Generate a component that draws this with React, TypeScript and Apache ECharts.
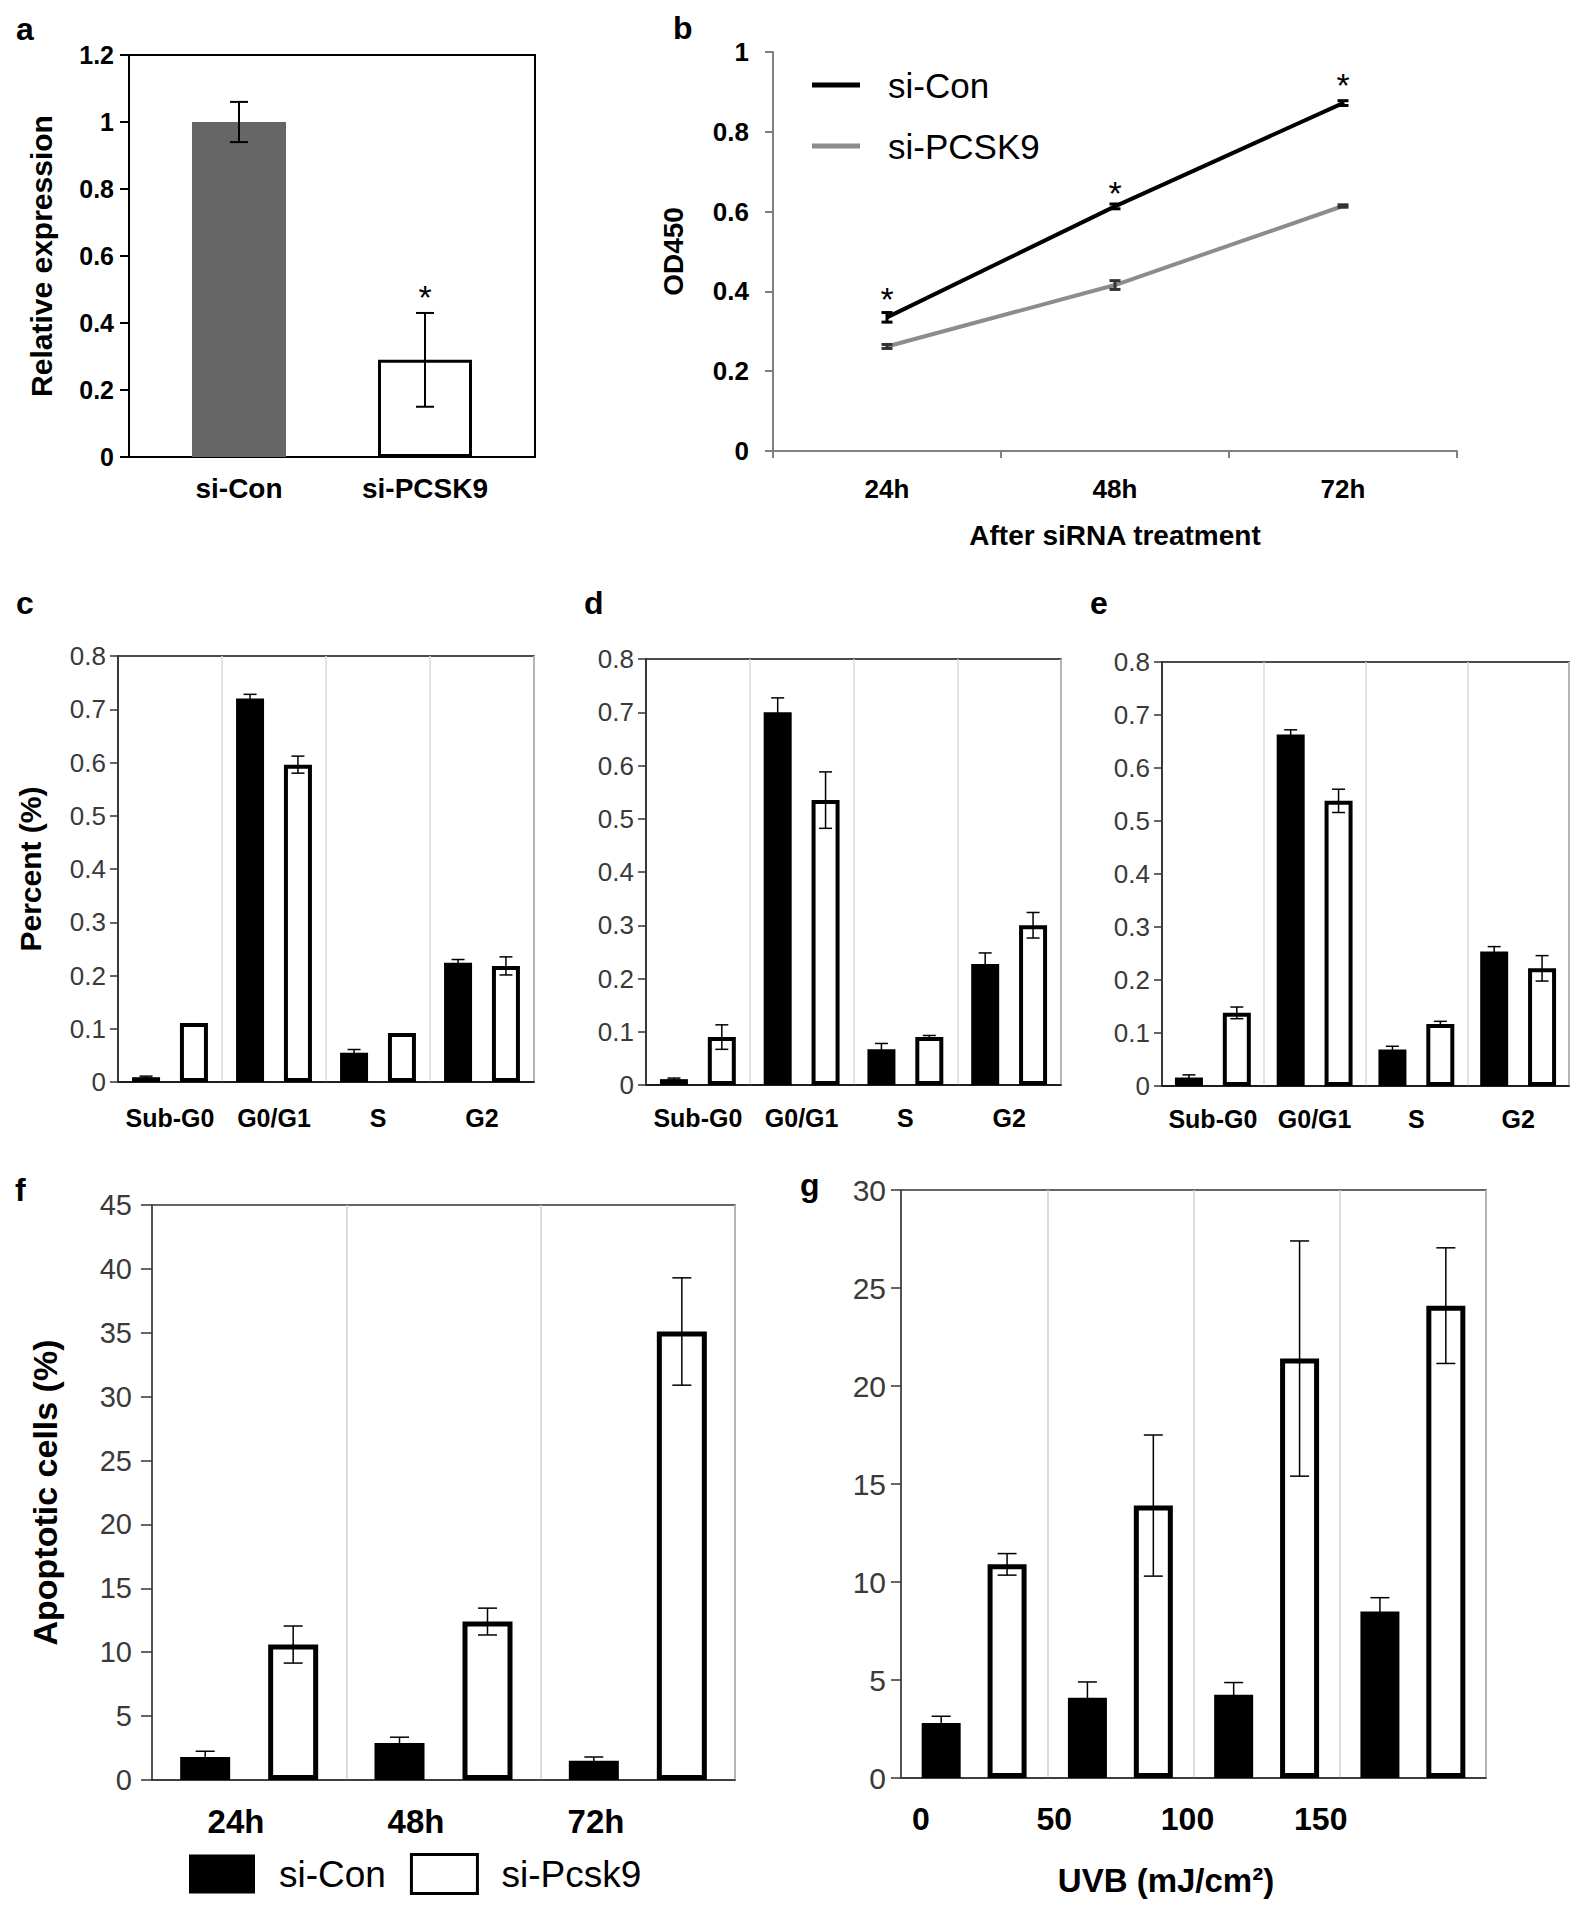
import React, { useEffect, useRef } from 'react';
import * as echarts from 'echarts';

// ---------------- data ----------------
const aCategories = ['si-Con', 'si-PCSK9'];
const aValues = [1.0, 0.29];
const aErrors = [0.06, 0.14];
const aStars = [null, 0.5];

const bCategories = ['24h', '48h', '72h'];
const bCon = [0.335, 0.613, 0.872];
const bConErr = [0.012, 0.006, 0.006];
const bPcsk9 = [0.262, 0.416, 0.614];
const bPcsk9Err = [0.005, 0.011, 0.003];
const bStars = [0.4, 0.665, 0.935];

const phases = ['Sub-G0', 'G0/G1', 'S', 'G2'];
const cCon = [0.009, 0.72, 0.055, 0.224];
const cConErr = [0.002, 0.008, 0.006, 0.006];
const cPcsk9 = [0.111, 0.596, 0.092, 0.218];
const cPcsk9Err = [0, 0.016, 0, 0.017];

const dCon = [0.011, 0.7, 0.067, 0.227];
const dConErr = [0.002, 0.027, 0.011, 0.021];
const dPcsk9 = [0.09, 0.535, 0.09, 0.3];
const dPcsk9Err = [0.023, 0.053, 0.003, 0.024];

const eCon = [0.016, 0.663, 0.069, 0.254];
const eConErr = [0.005, 0.009, 0.006, 0.009];
const ePcsk9 = [0.138, 0.538, 0.117, 0.222];
const ePcsk9Err = [0.011, 0.022, 0.005, 0.024];

const fTimes = ['24h', '48h', '72h'];
const fCon = [1.8, 2.9, 1.5];
const fConErr = [0.45, 0.45, 0.3];
const fPcsk9 = [10.6, 12.4, 35.1];
const fPcsk9Err = [1.45, 1.05, 4.2];

const gGroups = ['0', '50', '100', '150'];
const gTickLabels = ['0', '50', '100', '150', ''];
const gCon = [2.8, 4.1, 4.25, 8.5];
const gConErr = [0.35, 0.8, 0.62, 0.7];
const gPcsk9 = [10.9, 13.9, 21.4, 24.1];
const gPcsk9Err = [0.55, 3.6, 6.0, 2.95];

const panelLetters = ['a', 'b', 'c', 'd', 'e', 'f', 'g'];

// ---------------- helpers ----------------
const FONT = "'Liberation Sans', Arial, Helvetica, sans-serif";

function errData(values: number[], errs: number[]) {
  const out: number[][] = [];
  values.forEach((v, i) => {
    if (errs[i] > 0) out.push([i, v - errs[i], v + errs[i]]);
  });
  return out;
}

function errSeries(axis: number, values: number[], errs: number[], offset: number, capW: number, lw: number, color: string) {
  return {
    type: 'custom',
    xAxisIndex: axis,
    yAxisIndex: axis,
    z: 5,
    silent: true,
    data: errData(values, errs),
    encode: { x: 0, y: [1, 2] },
    renderItem: (_p: any, api: any) => {
      const lo = api.coord([api.value(0), api.value(1)]);
      const hi = api.coord([api.value(0), api.value(2)]);
      const x = lo[0] + offset;
      const h = capW / 2;
      const st = { stroke: color, lineWidth: lw };
      return {
        type: 'group',
        children: [
          { type: 'line', shape: { x1: x, y1: lo[1], x2: x, y2: hi[1] }, style: st },
          { type: 'line', shape: { x1: x - h, y1: lo[1], x2: x + h, y2: lo[1] }, style: st },
          { type: 'line', shape: { x1: x - h, y1: hi[1], x2: x + h, y2: hi[1] }, style: st },
        ],
      };
    },
  };
}

function starSeries(axis: number, levels: (number | null)[], size: number) {
  const data: number[][] = [];
  levels.forEach((v, i) => {
    if (v != null) data.push([i, v]);
  });
  return {
    type: 'custom',
    xAxisIndex: axis,
    yAxisIndex: axis,
    z: 6,
    silent: true,
    data,
    encode: { x: 0, y: 1 },
    renderItem: (_p: any, api: any) => {
      const pt = api.coord([api.value(0), api.value(1)]);
      return {
        type: 'text',
        x: pt[0],
        y: pt[1] + size * 0.22,
        style: { text: '*', fontSize: size, fontFamily: FONT, fill: '#000', align: 'center', verticalAlign: 'middle' },
      };
    },
  };
}

function barPair(axis: number, con: number[], pc: number[], conErr: number[], pcErr: number[], bw: number, gap: number, border: number, capW: number, lw: number) {
  const off = (bw + gap * bw) / 2;
  return [
    { type: 'bar', name: 'si-Con', xAxisIndex: axis, yAxisIndex: axis, data: con, barWidth: bw, barGap: `${Math.round(gap * 100)}%`, itemStyle: { color: '#000' }, z: 2 },
    { type: 'bar', name: 'si-Pcsk9', xAxisIndex: axis, yAxisIndex: axis, data: pc, barWidth: bw, barGap: `${Math.round(gap * 100)}%`, itemStyle: { color: '#fff', borderColor: '#000', borderWidth: border }, z: 2 },
    errSeries(axis, con, conErr, -off, capW, lw, '#000'),
    errSeries(axis, pc, pcErr, off, capW, lw, '#000'),
  ];
}

function cellX(gridIndex: number, margin: number) {
  return {
    type: 'category', gridIndex, data: phases,
    axisLine: { lineStyle: { color: '#111', width: 1.5 } },
    axisTick: { show: false },
    axisLabel: { interval: 0, fontSize: 25, fontWeight: 'bold', color: '#000', margin, fontFamily: FONT },
    splitLine: { show: true, lineStyle: { color: '#d9d9d9', width: 1.5 } },
  };
}

function cellY(gridIndex: number, withName: boolean) {
  return {
    type: 'value', gridIndex, min: 0, max: 0.8, interval: 0.1,
    axisLine: { show: true, lineStyle: { color: '#111', width: 1.5 } },
    axisTick: { show: true, length: 8, lineStyle: { color: '#333', width: 1.5 } },
    axisLabel: { fontSize: 26, color: '#3a3a3a', margin: 12, fontFamily: FONT },
    splitLine: { show: false },
    ...(withName
      ? { name: 'Percent (%)', nameLocation: 'middle', nameGap: 73, nameTextStyle: { fontSize: 30, fontWeight: 'bold', color: '#000', fontFamily: FONT } }
      : {}),
  };
}

function hiddenY(gridIndex: number, max: number) {
  return { type: 'value', gridIndex, min: 0, max, show: false, splitLine: { show: false } };
}

const letterPos = [
  [16, 29], [673, 28], [16, 603], [584, 603], [1090, 603], [15, 1190], [800, 1185],
];

export default function App() {
  const ref = useRef<HTMLDivElement>(null);

  useEffect(() => {
    if (!ref.current) return;
    const chart = echarts.init(ref.current, undefined, { renderer: 'svg' });

    const boxed = (b: any, color: string, w: number) => ({ ...b, show: true, borderColor: color, borderWidth: w, backgroundColor: 'transparent' });

    const option: any = {
      animation: false,
      backgroundColor: '#fff',
      textStyle: { fontFamily: FONT },
      grid: [
        boxed({ left: 129, top: 55, width: 406, height: 402 }, '#000', 2), // 0 a box
        { left: 773, top: 52, width: 684, height: 399 }, // 1 b
        boxed({ left: 118, top: 656, width: 416, height: 426 }, '#111', 1.5), // 2 c
        boxed({ left: 646, top: 659, width: 415, height: 426 }, '#111', 1.5), // 3 d
        boxed({ left: 1162, top: 662, width: 407, height: 424 }, '#111', 1.5), // 4 e
        boxed({ left: 152, top: 1205, width: 583, height: 575 }, '#333', 1.5), // 5 f
        boxed({ left: 901, top: 1190, width: 585, height: 588 }, '#333', 1.5), // 6 g
        { left: 146, top: 55, width: 372, height: 402 }, // 7 a inner
        { left: 146, top: 1205, width: 540, height: 575 }, // 8 f labels
        { left: 921, top: 1190, width: 533, height: 588 }, // 9 g labels
      ],
      xAxis: [
        { type: 'value', gridIndex: 0, min: 0, max: 1, show: false, splitLine: { show: false } },
        {
          type: 'category', gridIndex: 1, data: bCategories, boundaryGap: true,
          axisLine: { lineStyle: { color: '#808080', width: 2 } },
          axisTick: { show: true, length: 7, lineStyle: { color: '#808080', width: 2 } },
          axisLabel: { interval: 0, fontSize: 26, fontWeight: 'bold', color: '#000', margin: 25, fontFamily: FONT },
          name: 'After siRNA treatment', nameLocation: 'middle', nameGap: 70,
          nameTextStyle: { fontSize: 28, fontWeight: 'bold', color: '#000', fontFamily: FONT },
        },
        cellX(2, 23),
        cellX(3, 20),
        cellX(4, 20),
        {
          type: 'category', gridIndex: 5, data: fTimes,
          axisLine: { lineStyle: { color: '#333', width: 1.5 } },
          axisTick: { show: false },
          axisLabel: { show: false },
          splitLine: { show: true, lineStyle: { color: '#cfcfcf', width: 1.5 } },
        },
        {
          type: 'category', gridIndex: 6, data: gGroups,
          axisLine: { lineStyle: { color: '#333', width: 1.5 } },
          axisTick: { show: false },
          axisLabel: { show: false },
          splitLine: { show: true, lineStyle: { color: '#cfcfcf', width: 1.5 } },
          name: 'UVB (mJ/cm²)', nameLocation: 'middle', nameGap: 86,
          nameTextStyle: { fontSize: 33, fontWeight: 'bold', color: '#000', fontFamily: FONT, padding: [0, 55, 0, 0] },
        },
        {
          type: 'category', gridIndex: 7, data: aCategories,
          axisLine: { show: false },
          axisTick: { show: false },
          axisLabel: { interval: 0, fontSize: 28, fontWeight: 'bold', color: '#000', margin: 17, fontFamily: FONT },
          splitLine: { show: false },
        },
        {
          type: 'category', gridIndex: 8, data: fTimes, boundaryGap: true,
          axisLine: { show: false },
          axisTick: { show: false },
          axisLabel: { interval: 0, fontSize: 33, fontWeight: 'bold', color: '#000', margin: 25, fontFamily: FONT },
          splitLine: { show: false },
        },
        {
          type: 'category', gridIndex: 9, data: gTickLabels, boundaryGap: false,
          axisLine: { show: false },
          axisTick: { show: false },
          axisLabel: { interval: 0, fontSize: 32, fontWeight: 'bold', color: '#000', margin: 25, fontFamily: FONT },
          splitLine: { show: false },
        },
      ],
      yAxis: [
        {
          type: 'value', gridIndex: 0, min: 0, max: 1.2, interval: 0.2,
          axisLine: { show: true, onZero: false, lineStyle: { color: '#000', width: 2 } },
          axisTick: { show: true, length: 9, lineStyle: { color: '#000', width: 2 } },
          axisLabel: { fontSize: 25, fontWeight: 'bold', color: '#000', margin: 15, fontFamily: FONT },
          splitLine: { show: false },
          name: 'Relative expression', nameLocation: 'middle', nameGap: 73,
          nameTextStyle: { fontSize: 30, fontWeight: 'bold', color: '#000', fontFamily: FONT },
        },
        {
          type: 'value', gridIndex: 1, min: 0, max: 1, interval: 0.2,
          axisLine: { show: true, lineStyle: { color: '#808080', width: 2 } },
          axisTick: { show: true, length: 8, lineStyle: { color: '#808080', width: 2 } },
          axisLabel: { fontSize: 26, fontWeight: 'bold', color: '#000', margin: 24, fontFamily: FONT },
          splitLine: { show: false },
          name: 'OD450', nameLocation: 'middle', nameGap: 86,
          nameTextStyle: { fontSize: 28, fontWeight: 'bold', color: '#000', fontFamily: FONT },
        },
        cellY(2, true),
        cellY(3, false),
        cellY(4, false),
        {
          type: 'value', gridIndex: 5, min: 0, max: 45, interval: 5,
          axisLine: { show: true, lineStyle: { color: '#333', width: 1.5 } },
          axisTick: { show: true, length: 11, lineStyle: { color: '#333', width: 1.5 } },
          axisLabel: { fontSize: 29, color: '#3a3a3a', margin: 20, fontFamily: FONT },
          splitLine: { show: false },
          name: 'Apoptotic cells (%)', nameLocation: 'middle', nameGap: 90,
          nameTextStyle: { fontSize: 34, fontWeight: 'bold', color: '#000', fontFamily: FONT },
        },
        {
          type: 'value', gridIndex: 6, min: 0, max: 30, interval: 5,
          axisLine: { show: true, lineStyle: { color: '#333', width: 1.5 } },
          axisTick: { show: true, length: 10, lineStyle: { color: '#333', width: 1.5 } },
          axisLabel: { fontSize: 30, color: '#3a3a3a', margin: 15, fontFamily: FONT },
          splitLine: { show: false },
        },
        hiddenY(7, 1.2),
        hiddenY(8, 45),
        hiddenY(9, 30),
      ],
      legend: [
        {
          orient: 'vertical', left: 807, top: 62, icon: 'rect', itemWidth: 48, itemHeight: 5, itemGap: 25,
          selectedMode: false,
          data: [
            { name: 'si-Con', itemStyle: { color: '#000', borderWidth: 0 } },
            { name: 'si-PCSK9', itemStyle: { color: '#8c8c8c', borderWidth: 0 } },
          ],
          textStyle: { fontSize: 35, color: '#000', fontFamily: FONT, lineHeight: 36, padding: [0, 0, 0, 23] },
        },
        {
          orient: 'horizontal', left: 184, top: 1848, icon: 'rect', itemWidth: 66, itemHeight: 39, itemGap: 24,
          selectedMode: false,
          data: [
            { name: 'si-Con', itemStyle: { color: '#000', borderWidth: 0 } },
            { name: 'si-Pcsk9', itemStyle: { color: '#fff', borderColor: '#000', borderWidth: 3 } },
          ],
          textStyle: { fontSize: 37, color: '#000', fontFamily: FONT, padding: [0, 0, 0, 19] },
        },
      ],
      graphic: {
        elements: panelLetters.map((t, i) => ({
          type: 'text', x: letterPos[i][0], y: letterPos[i][1], silent: true,
          style: { text: t, fontSize: 32, fontWeight: 'bold', fontFamily: FONT, fill: '#000', align: 'left', verticalAlign: 'middle' },
        })),
      },
      series: [
        // b lines first (legend lookups)
        {
          type: 'line', name: 'si-Con', xAxisIndex: 1, yAxisIndex: 1, data: bCon,
          symbol: 'none', showSymbol: false, lineStyle: { color: '#000', width: 4 }, itemStyle: { color: '#000' }, z: 3,
        },
        {
          type: 'line', name: 'si-PCSK9', xAxisIndex: 1, yAxisIndex: 1, data: bPcsk9,
          symbol: 'none', showSymbol: false, lineStyle: { color: '#8c8c8c', width: 4 }, itemStyle: { color: '#8c8c8c' }, z: 3,
        },
        errSeries(1, bCon, bConErr, 0, 11, 3, '#000'),
        errSeries(1, bPcsk9, bPcsk9Err, 0, 11, 3, '#333'),
        starSeries(1, bStars, 34),
        // a
        {
          type: 'bar', name: 'Relative expression', xAxisIndex: 7, yAxisIndex: 7, barWidth: 94,
          data: aValues.map((v, i) => ({
            value: v,
            itemStyle: i === 0 ? { color: '#666666' } : { color: '#fff', borderColor: '#000', borderWidth: 3 },
          })),
          z: 2,
        },
        errSeries(7, aValues, aErrors, 0, 18, 2, '#000'),
        starSeries(7, aStars, 34),
        // c, d, e
        ...barPair(2, cCon, cPcsk9, cConErr, cPcsk9Err, 28, 0.71, 4, 13, 1.5),
        ...barPair(3, dCon, dPcsk9, dConErr, dPcsk9Err, 28, 0.71, 4, 13, 1.5),
        ...barPair(4, eCon, ePcsk9, eConErr, ePcsk9Err, 28, 0.71, 4, 13, 1.5),
        // f, g
        ...barPair(5, fCon, fPcsk9, fConErr, fPcsk9Err, 50, 0.76, 5, 19, 1.5),
        ...barPair(6, gCon, gPcsk9, gConErr, gPcsk9Err, 39, 0.69, 5, 19, 1.5),
      ],
    };

    chart.setOption(option);
    return () => chart.dispose();
  }, []);

  return (
    <div
      ref={ref}
      style={{ position: 'absolute', left: 0, top: 0, width: 1591, height: 1920, background: '#fff' }}
    />
  );
}
